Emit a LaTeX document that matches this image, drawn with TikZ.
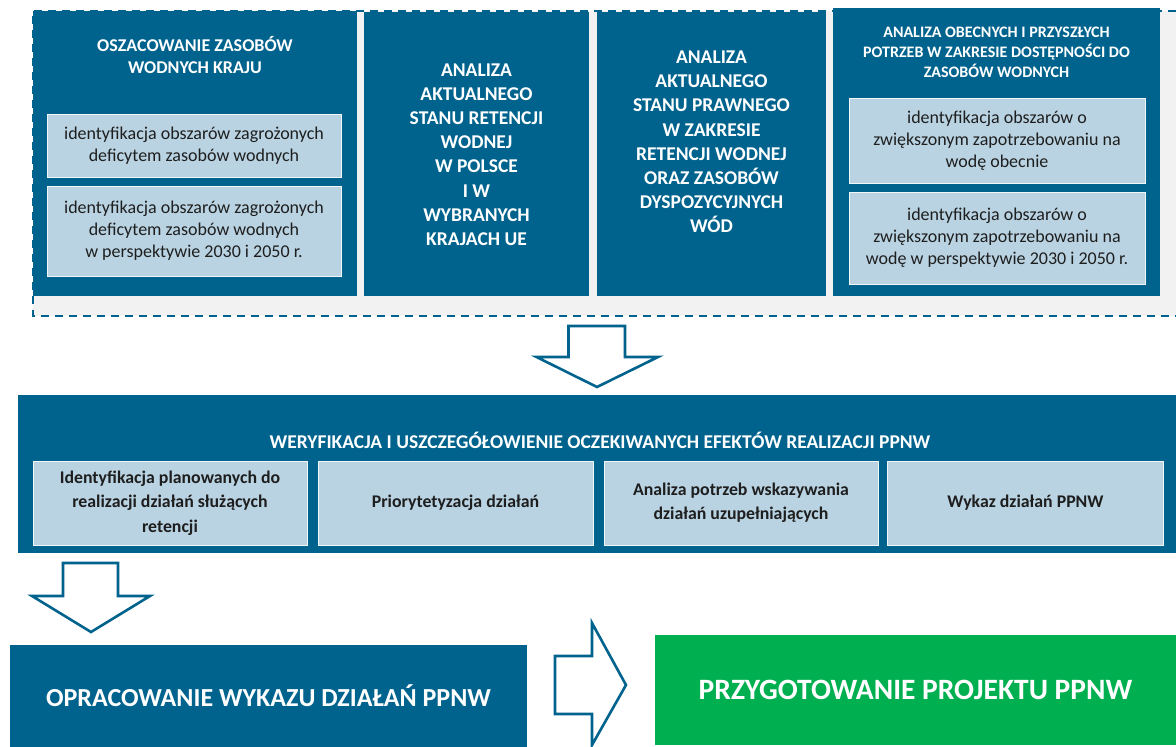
\documentclass[tikz,border=0pt]{standalone}
\usepackage{fontspec}
\setmainfont{Carlito}
\usetikzlibrary{positioning}

\definecolor{ppnwblue}{RGB}{0,99,141}
\definecolor{ppnwlight}{RGB}{185,211,226}
\definecolor{ppnwgray}{RGB}{242,242,242}
\definecolor{ppnwgreen}{RGB}{0,176,80}
\definecolor{ppnwtext}{RGB}{30,30,30}

\begin{document}
\begin{tikzpicture}[x=1pt,y=-1pt,
    outerbox/.style={rectangle,fill=ppnwblue,inner sep=0pt},
    innerbox/.style={rectangle,fill=ppnwlight,draw=white!80!ppnwlight,line width=0.6pt,inner sep=0pt,
        text=ppnwtext,align=center,font=\fontsize{18}{22}\selectfont},
    subbox/.style={innerbox,font=\bfseries\fontsize{17.8}{24.5}\selectfont},
    titletext/.style={text=white,align=center,inner sep=0pt},
    blockarrow/.style={draw=ppnwblue,fill=white,line width=2.6pt,line join=miter}]
\useasboundingbox (0,0) rectangle (1176,747);

% % analiza - gray dashed frame
\fill[ppnwgray] (33,11) rectangle (1190,316);
\draw[ppnwblue,line width=1.8pt,dash pattern=on 8pt off 6pt] (1190,11) -- (33,11) -- (33,316) -- (1190,316);

\begin{scope}
    \node (b1) at (195,153.5) [outerbox,minimum width=324pt,minimum height=285pt] {};
    \node (b2) at (476.5,154) [outerbox,minimum width=225pt,minimum height=284pt] {};
    \node (b3) at (711.5,154) [outerbox,minimum width=229pt,minimum height=284pt] {};
    \node (b4) at (996.5,152) [outerbox,minimum width=327pt,minimum height=288pt] {};

    \node (t1) at (195,55) [titletext,font=\bfseries\fontsize{18}{22}\selectfont] {OSZACOWANIE ZASOBÓW\\WODNYCH KRAJU};
    \node (t2) at (476.5,154.5) [titletext,font=\bfseries\fontsize{19.5}{24.2}\selectfont]
        {ANALIZA\\AKTUALNEGO\\STANU RETENCJI\\WODNEJ\\W POLSCE\\I W\\WYBRANYCH\\KRAJACH UE};
    \node (t3) at (711.5,142) [titletext,font=\bfseries\fontsize{19.5}{24.2}\selectfont]
        {ANALIZA\\AKTUALNEGO\\STANU PRAWNEGO\\W ZAKRESIE\\RETENCJI WODNEJ\\ORAZ ZASOBÓW\\DYSPOZYCYJNYCH\\WÓD};
    \node (t4) at (996.5,52) [titletext,font=\bfseries\fontsize{16}{20}\selectfont]
        {ANALIZA OBECNYCH I PRZYSZŁYCH\\POTRZEB W ZAKRESIE DOSTĘPNOŚCI DO\\ZASOBÓW WODNYCH};

    % % inner boxes
    \node (i11) at (194,145.5) [innerbox,minimum width=294pt,minimum height=63pt]
        {identyfikacja obszarów zagrożonych\\deficytem zasobów wodnych};
    \node (i12) at (194,231) [innerbox,minimum width=294pt,minimum height=90pt]
        {identyfikacja obszarów zagrożonych\\deficytem zasobów wodnych\\w perspektywie 2030 i 2050 r.};
    \node (i41) at (997,140.5) [innerbox,minimum width=296pt,minimum height=85pt]
        {identyfikacja obszarów o\\zwiększonym zapotrzebowaniu na\\wodę obecnie};
    \node (i42) at (997,238) [innerbox,minimum width=296pt,minimum height=92pt]
        {identyfikacja obszarów o\\zwiększonym zapotrzebowaniu na\\wodę w perspektywie 2030 i 2050 r.};
\end{scope}

% % weryfikacja
\begin{scope}
    \node (mid) at (597,473.5) [outerbox,minimum width=1158pt,minimum height=158pt] {};
    \node (tm) at (600,440) [titletext,font=\bfseries\fontsize{19.5}{22}\selectfont]
        {WERYFIKACJA I USZCZEGÓŁOWIENIE OCZEKIWANYCH EFEKTÓW REALIZACJI PPNW};
    \node (s1) at (170,503) [subbox,minimum width=274pt,minimum height=84pt]
        {Identyfikacja planowanych do\\realizacji działań służących\\retencji};
    \node (s2) at (455.5,503) [subbox,minimum width=275pt,minimum height=84pt] {Priorytetyzacja działań};
    \node (s3) at (741,503) [subbox,minimum width=274pt,minimum height=84pt]
        {Analiza potrzeb wskazywania\\działań uzupełniających};
    \node (s4) at (1025.5,503) [subbox,minimum width=276pt,minimum height=84pt] {Wykaz działań PPNW};
\end{scope}

% % wynik
\node (opr) at (268.5,696) [outerbox,minimum width=517pt,minimum height=102pt,text=white,
    font=\bfseries\fontsize{26}{28}\selectfont] {OPRACOWANIE WYKAZU DZIAŁAŃ PPNW};
\node (prz) at (915.5,690) [outerbox,fill=ppnwgreen,minimum width=521pt,minimum height=110pt,text=white,
    font=\bfseries\fontsize{29.5}{32}\selectfont] {PRZYGOTOWANIE PROJEKTU PPNW};

% % block arrows
\coordinate (a1) at (597,326);
\coordinate (a2) at (90.5,563);
\coordinate (a3) at (555,685);
\draw[blockarrow] (a1) ++(-28.5,0) -- ++(0,31) -- ++(-32,0) -- (597,387) -- (658,357) -- ++(-33,0) -- ++(0,-31) -- cycle;
\draw[blockarrow] (a2) ++(-27.5,0) -- ++(0,33) -- ++(-31,0) -- (91,632) -- (150,596) -- ++(-32,0) -- ++(0,-33) -- cycle;
\draw[blockarrow] (a3) ++(0,-29) -- ++(37,0) -- ++(0,-33) -- (626,685) -- (592,745) -- ++(0,-31) -- ++(-37,0) -- cycle;
\end{tikzpicture}
\end{document}
